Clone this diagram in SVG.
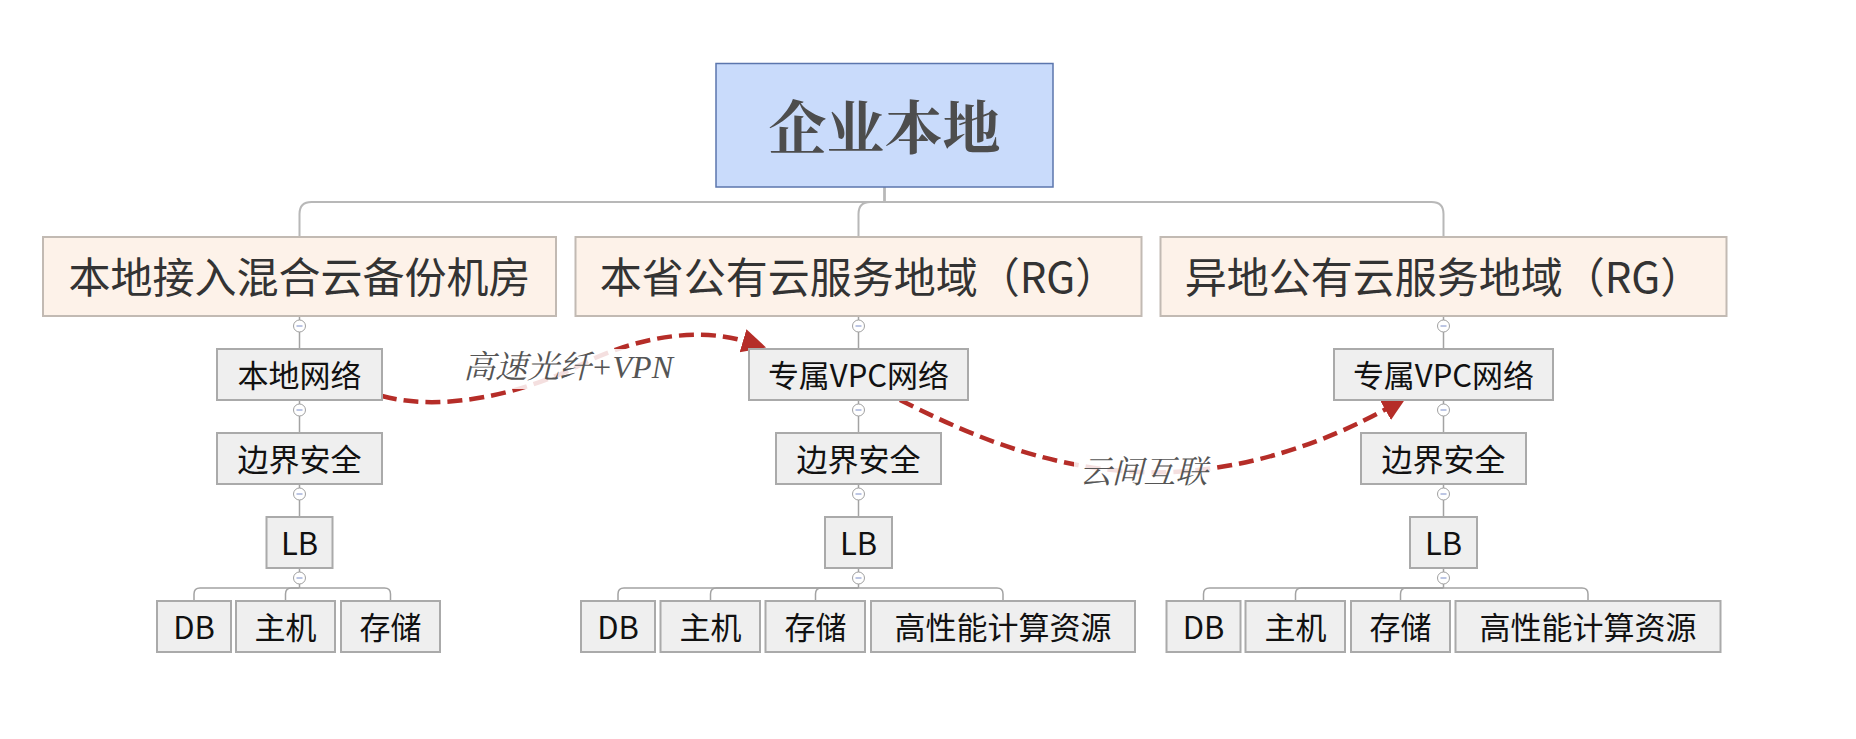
<svg xmlns="http://www.w3.org/2000/svg" width="1856" height="739" viewBox="0 0 1856 739">
<defs>
<style>
.bg{fill:#ffffff}
.root rect{fill:#c9dbfb;stroke:#5b76ad;stroke-width:1.5}
.root text{font-family:"Noto Serif CJK SC","Noto Sans CJK SC",serif;font-weight:bold;font-size:58px;fill:#4d4d4d;text-anchor:middle;dominant-baseline:central}
.l1 rect{fill:#fdf2e9;stroke:#c2bab3;stroke-width:2}
.l1 text{font-family:"Noto Sans CJK SC",sans-serif;font-size:42px;fill:#333333;text-anchor:middle;dominant-baseline:central}
.nd rect{fill:#efefef;stroke:#aaaaaa;stroke-width:2}
.nd text{font-family:"Noto Sans CJK SC",sans-serif;font-size:31px;fill:#111111;text-anchor:middle;dominant-baseline:central}
.top{fill:none;stroke:#b8b8b8;stroke-width:2}
.ln{fill:none;stroke:#a3a3a3;stroke-width:1.5}
.rel{fill:none;stroke:#b52d28;stroke-width:4.5;stroke-dasharray:15 7}
.lblbg{fill:#ffffff;fill-opacity:0.85}
.lbl{font-family:"Liberation Serif","Noto Serif CJK SC","Noto Sans CJK SC",serif;font-style:italic;font-size:32px;fill:#555555;text-anchor:middle;dominant-baseline:central}
</style>
<marker id="ah" markerUnits="userSpaceOnUse" markerWidth="26" markerHeight="28" viewBox="0 0 26 28" refX="1" refY="14" orient="auto">
<path d="M0,2 L24,14 L0,26 z" fill="#b52d28"/>
</marker>
<g id="tg"><circle cx="0" cy="0" r="6" fill="#ffffff" stroke="#a0a0a0" stroke-width="1"/><line x1="-3" y1="0" x2="3" y2="0" stroke="#7b8dc8" stroke-width="1"/></g>
</defs>
<rect class="bg" x="0" y="0" width="1856" height="739"/>

<g id="connectors">
<!-- root to level 1 -->
<path class="top" d="M884.5,187 V202 H311.5 Q299.5,202 299.5,214 V237"/>
<path class="top" d="M884.5,187 V202 H870.5 Q858.5,202 858.5,214 V237"/>
<path class="top" d="M884.5,187 V202 H1431.5 Q1443.5,202 1443.5,214 V237"/>
<!-- column A chain -->
<path class="ln" d="M299.5,316 V349 M299.5,400 V433 M299.5,484 V517 M299.5,568 V588"/>
<path class="ln" d="M299.5,588 H200 Q194,588 194,594 V601"/>
<path class="ln" d="M299.5,588 H291.5 Q285.5,588 285.5,594 V601"/>
<path class="ln" d="M299.5,588 H384.5 Q390.5,588 390.5,594 V601"/>
<!-- column B chain -->
<path class="ln" d="M858.5,316 V349 M858.5,400 V433 M858.5,484 V517 M858.5,568 V588"/>
<path class="ln" d="M858.5,588 H624 Q618,588 618,594 V601"/>
<path class="ln" d="M858.5,588 H716.5 Q710.5,588 710.5,594 V601"/>
<path class="ln" d="M858.5,588 H821.5 Q815.5,588 815.5,594 V601"/>
<path class="ln" d="M858.5,588 H997 Q1003,588 1003,594 V601"/>
<!-- column C chain -->
<path class="ln" d="M1443.5,316 V349 M1443.5,400 V433 M1443.5,484 V517 M1443.5,568 V588"/>
<path class="ln" d="M1443.5,588 H1209.5 Q1203.5,588 1203.5,594 V601"/>
<path class="ln" d="M1443.5,588 H1301.5 Q1295.5,588 1295.5,594 V601"/>
<path class="ln" d="M1443.5,588 H1406.5 Q1400.5,588 1400.5,594 V601"/>
<path class="ln" d="M1443.5,588 H1582 Q1588,588 1588,594 V601"/>
<!-- collapse toggles -->
<g id="toggles">
<use href="#tg" x="299.5" y="326"/><use href="#tg" x="299.5" y="410"/><use href="#tg" x="299.5" y="494"/><use href="#tg" x="299.5" y="578"/>
<use href="#tg" x="858.5" y="326"/><use href="#tg" x="858.5" y="410"/><use href="#tg" x="858.5" y="494"/><use href="#tg" x="858.5" y="578"/>
<use href="#tg" x="1443.5" y="326"/><use href="#tg" x="1443.5" y="410"/><use href="#tg" x="1443.5" y="494"/><use href="#tg" x="1443.5" y="578"/>
</g>
<!-- relationship: 高速光纤+VPN -->
<g id="rel1">
<path class="rel" d="M382,396 C440,412 520,395 580,365 S700,328 744,341" marker-end="url(#ah)"/>
<rect class="lblbg" x="460" y="349" width="216" height="40"/>
<text class="lbl" x="568" y="367">高速光纤+VPN</text>
</g>
<!-- relationship: 云间互联 -->
<g id="rel2">
<path class="rel" d="M900,400 C960,430 1040,468 1140,472 S1330,440 1386,409" marker-end="url(#ah)"/>
<rect class="lblbg" x="1074" y="453" width="139" height="39"/>
<text class="lbl" x="1143.5" y="471.5">云间互联</text>
</g>
</g>

<g id="root" class="root"><rect x="716" y="63.5" width="337" height="123.5"/><text x="884.5" y="124">企业本地</text></g>

<g id="regionA" class="l1"><rect x="43" y="237" width="513" height="79"/><text x="299.5" y="274.5">本地接入混合云备份机房</text></g>
<g id="regionB" class="l1"><rect x="575.5" y="237" width="566" height="79"/><text x="858.5" y="274.5">本省公有云服务地域（RG）</text></g>
<g id="regionC" class="l1"><rect x="1160.5" y="237" width="566" height="79"/><text x="1443.5" y="274.5">异地公有云服务地域（RG）</text></g>

<g id="a-net" class="nd"><rect x="217" y="349" width="165" height="51"/><text x="299.5" y="373">本地网络</text></g>
<g id="a-sec" class="nd"><rect x="217" y="433" width="165" height="51"/><text x="299.5" y="457">边界安全</text></g>
<g id="a-lb" class="nd"><rect x="266.5" y="517" width="66" height="51"/><text x="299.5" y="541">LB</text></g>
<g id="a-db" class="nd"><rect x="157" y="601" width="74" height="51"/><text x="194" y="625">DB</text></g>
<g id="a-host" class="nd"><rect x="236" y="601" width="99" height="51"/><text x="285.5" y="625">主机</text></g>
<g id="a-sto" class="nd"><rect x="341" y="601" width="99" height="51"/><text x="390.5" y="625">存储</text></g>

<g id="b-vpc" class="nd"><rect x="749" y="349" width="219" height="51"/><text x="858.5" y="373">专属VPC网络</text></g>
<g id="b-sec" class="nd"><rect x="776" y="433" width="165" height="51"/><text x="858.5" y="457">边界安全</text></g>
<g id="b-lb" class="nd"><rect x="825" y="517" width="67" height="51"/><text x="858.5" y="541">LB</text></g>
<g id="b-db" class="nd"><rect x="581" y="601" width="74" height="51"/><text x="618" y="625">DB</text></g>
<g id="b-host" class="nd"><rect x="660.5" y="601" width="99.5" height="51"/><text x="710.5" y="625">主机</text></g>
<g id="b-sto" class="nd"><rect x="765.5" y="601" width="99.5" height="51"/><text x="815.5" y="625">存储</text></g>
<g id="b-hpc" class="nd"><rect x="871" y="601" width="264" height="51"/><text x="1003" y="625">高性能计算资源</text></g>

<g id="c-vpc" class="nd"><rect x="1334" y="349" width="219" height="51"/><text x="1443.5" y="373">专属VPC网络</text></g>
<g id="c-sec" class="nd"><rect x="1361" y="433" width="165" height="51"/><text x="1443.5" y="457">边界安全</text></g>
<g id="c-lb" class="nd"><rect x="1410" y="517" width="67" height="51"/><text x="1443.5" y="541">LB</text></g>
<g id="c-db" class="nd"><rect x="1166.5" y="601" width="74" height="51"/><text x="1203.5" y="625">DB</text></g>
<g id="c-host" class="nd"><rect x="1245.5" y="601" width="99.5" height="51"/><text x="1295.5" y="625">主机</text></g>
<g id="c-sto" class="nd"><rect x="1351" y="601" width="99" height="51"/><text x="1400.5" y="625">存储</text></g>
<g id="c-hpc" class="nd"><rect x="1455.5" y="601" width="265" height="51"/><text x="1588" y="625">高性能计算资源</text></g>
</svg>
